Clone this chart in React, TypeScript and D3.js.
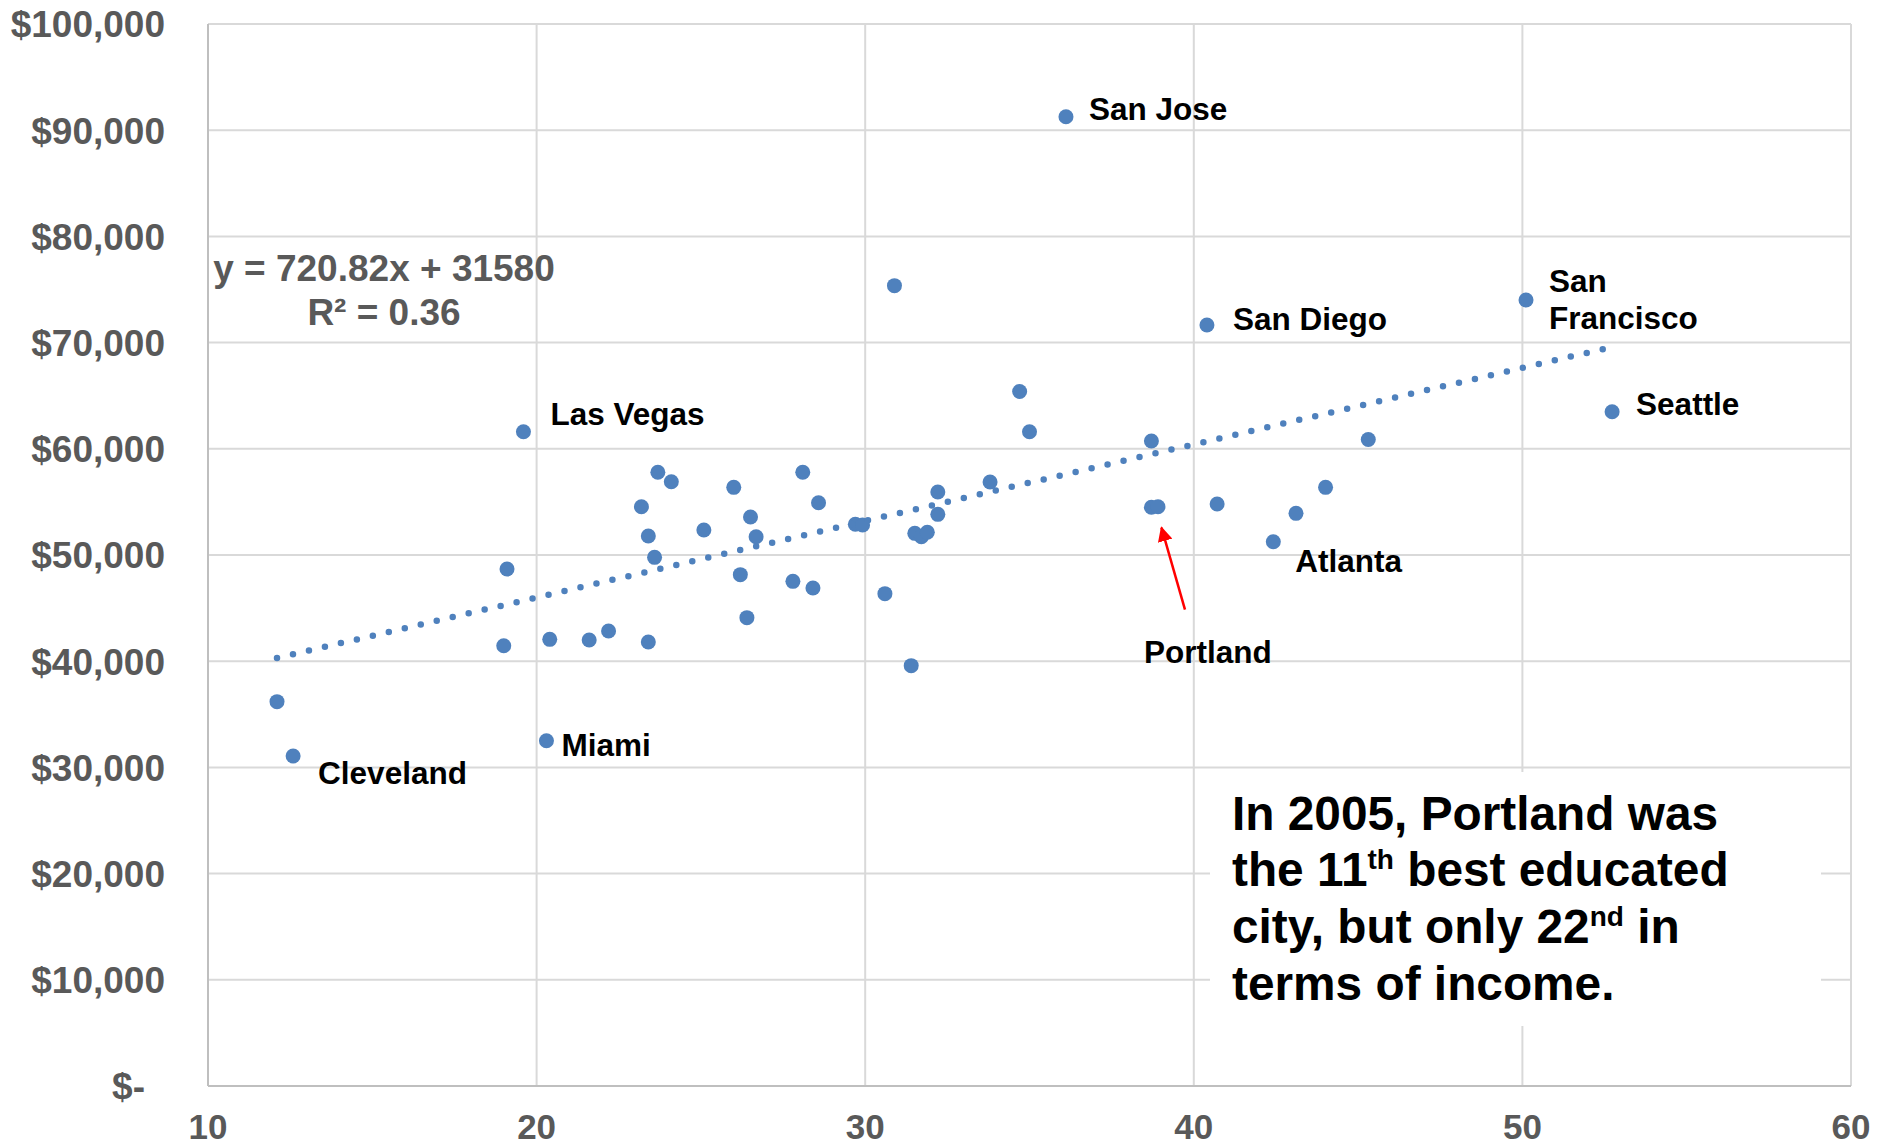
import React from 'react';
import * as d3 from 'd3';

// % of adults with a bachelor's degree (x) vs per-capita / median income (y)
const education = [
  12.10, 12.59, 19.60, 19.10, 19.00, 20.30, 20.40, 21.60, 22.19, 23.40,
  23.19, 23.40, 23.59, 23.69, 24.10, 25.09, 26.00, 26.20, 26.51, 26.40,
  26.68, 27.80, 28.10, 28.41, 28.58, 29.70, 29.92, 30.60, 30.89, 31.40,
  31.51, 31.71, 31.89, 32.21, 32.21, 33.80, 34.70, 35.00, 36.11, 38.71,
  38.71, 38.91, 40.40, 40.71, 42.42, 43.11, 44.01, 45.31, 50.11, 52.73,
];
const income = [
  36190, 31070, 61610, 48680, 41460, 32510, 42060, 42000, 42840, 41810,
  54550, 51790, 49780, 57790, 56900, 52350, 56370, 48150, 53580, 44100,
  51720, 47520, 57790, 46890, 54920, 52890, 52830, 46360, 75360, 39580,
  52040, 51720, 52140, 55930, 53830, 56870, 65400, 61610, 91270, 60730,
  54490, 54550, 71660, 54800, 51250, 53920, 56370, 60870, 74010, 63490,
];
const cityNames = [
  '', 'Cleveland', 'Las Vegas', '', '', 'Miami', '', '', '', '',
  '', '', '', '', '', '', '', '', '', '',
  '', '', '', '', '', '', '', '', '', '',
  '', '', '', '', '', '', '', '', 'San Jose', '',
  '', 'Portland', 'San Diego', '', 'Atlanta', '', '', '', 'San Francisco', 'Seattle',
];

const xTicks = [10, 20, 30, 40, 50, 60];
const yTicks = [0, 10000, 20000, 30000, 40000, 50000, 60000, 70000, 80000, 90000, 100000];

const trendSlope = 720.82;
const trendIntercept = 31580;
const trendR2 = 0.36;

// label placement relative to the marker (px)
const labelOffsets: Record<string, { dx: number; dy: number; lines?: string[] }> = {
  'Cleveland': { dx: 25, dy: 28 },
  'Las Vegas': { dx: 27, dy: -7 },
  'Miami': { dx: 15, dy: 15 },
  'San Jose': { dx: 23, dy: 3 },
  'San Diego': { dx: 26, dy: 5 },
  'San Francisco': { dx: 23, dy: -8, lines: ['San', 'Francisco'] },
  'Seattle': { dx: 24, dy: 3 },
  'Atlanta': { dx: 22, dy: 30 },
  'Portland': { dx: -14, dy: 156 },
};

const W = 1877;
const H = 1147;
const FONT = "Arial, 'Liberation Sans', sans-serif";
const BLUE = '#4F81BD';
const GREY_TXT = '#595959';

export default function App() {
  const x = d3.scaleLinear().domain([10, 60]).range([208, 1851]);
  const y = d3.scaleLinear().domain([0, 100000]).range([1086, 24]);

  const pts = education.map((e, i) => ({ e, inc: income[i], name: cityNames[i] }));
  const [xMin, xMax] = d3.extent(education) as [number, number];
  const trend = d3.line<number>()
    .x(d => x(d))
    .y(d => y(trendSlope * d + trendIntercept));

  const yFmt = (d: number) => (d === 0 ? '$-' : d3.format('$,')(d));
  const portland = pts.find(p => p.name === 'Portland')!;
  const px = x(portland.e), py = y(portland.inc);

  return (
    <svg width={W} height={H} style={{ position: 'absolute', left: 0, top: 0, background: '#fff' }}
      fontFamily={FONT}>
      <defs>
        <marker id="arrow" viewBox="0 0 10 10" refX="9" refY="5" markerWidth="6" markerHeight="6"
          orient="auto" markerUnits="strokeWidth">
          <path d="M0,0 L10,5 L0,10 z" fill="#FF0000" />
        </marker>
      </defs>
      <rect width={W} height={H} fill="#fff" />

      {/* gridlines */}
      {yTicks.filter(t => t > 0).map(t => (
        <line key={'gy' + t} x1={x(10)} x2={x(60)} y1={y(t)} y2={y(t)} stroke="#D9D9D9" strokeWidth={2} />
      ))}
      {xTicks.filter(t => t > 10).map(t => (
        <line key={'gx' + t} x1={x(t)} x2={x(t)} y1={y(0)} y2={y(100000)} stroke="#D9D9D9" strokeWidth={2} />
      ))}
      {/* axes */}
      <line x1={x(10)} x2={x(10)} y1={y(0)} y2={y(100000)} stroke="#BFBFBF" strokeWidth={2} />
      <line x1={x(10)} x2={x(60)} y1={y(0)} y2={y(0)} stroke="#BFBFBF" strokeWidth={2} />

      {/* tick labels */}
      {yTicks.map(t => (
        <text key={'ty' + t} x={t === 0 ? 145 : 165} y={y(t)} dy="0.36em" textAnchor="end"
          fontSize={37} fontWeight="bold" fill={GREY_TXT}>{yFmt(t)}</text>
      ))}
      {xTicks.map(t => (
        <text key={'tx' + t} x={x(t)} y={1139} textAnchor="middle"
          fontSize={35} fontWeight="bold" fill={GREY_TXT}>{t}</text>
      ))}

      {/* points */}
      {pts.map((p, i) => (
        <circle key={'p' + i} cx={x(p.e)} cy={y(p.inc)} r={7.5} fill={BLUE} />
      ))}

      {/* linear trendline */}
      <path d={trend([xMin, xMax]) || ''} fill="none" stroke={BLUE} strokeWidth={6.5}
        strokeLinecap="round" strokeDasharray="0 16.4" />

      {/* equation */}
      <text x={384} y={281} textAnchor="middle" fontSize={37} fontWeight="bold" fill={GREY_TXT}>
        {`y = ${trendSlope}x + ${trendIntercept}`}
      </text>
      <text x={384} y={325} textAnchor="middle" fontSize={37} fontWeight="bold" fill={GREY_TXT}>
        {`R² = ${trendR2}`}
      </text>

      {/* city labels */}
      {pts.filter(p => p.name).map(p => {
        const o = labelOffsets[p.name];
        const lines = o.lines || [p.name];
        return (
          <text key={'l' + p.name} x={x(p.e) + o.dx} y={y(p.inc) + o.dy}
            fontSize={31.5} fontWeight="bold" fill="#000">
            {lines.map((l, k) => (
              <tspan key={k} x={x(p.e) + o.dx} dy={k === 0 ? 0 : 37}>{l}</tspan>
            ))}
          </text>
        );
      })}

      {/* Portland arrow */}
      <line x1={px + 27} y1={py + 103} x2={px + 3.5} y2={py + 21} stroke="#FF0000" strokeWidth={2.5}
        markerEnd="url(#arrow)" />

      {/* annotation box */}
      <rect x={1210} y={772} width={611} height={254} fill="#fff" />
      <g fontSize={47.8} fontWeight="bold" fill="#000">
        <text x={1232} y={830}>In 2005, Portland was</text>
        <text x={1232} y={886}>
          the 11<tspan fontSize={28} dy={-17}>th</tspan><tspan dy={17}> best educated</tspan>
        </text>
        <text x={1232} y={943}>
          city, but only 22<tspan fontSize={28} dy={-17}>nd</tspan><tspan dy={17}> in</tspan>
        </text>
        <text x={1232} y={1000}>terms of income.</text>
      </g>
    </svg>
  );
}
